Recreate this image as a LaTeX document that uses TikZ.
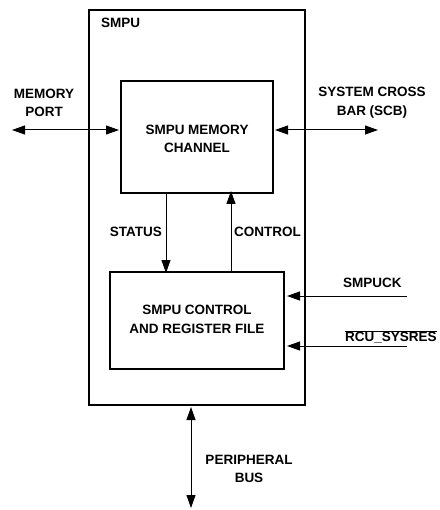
\documentclass[tikz,border=0pt]{standalone}
\usepackage{fontspec}
\setmainfont{Liberation Sans}
\usetikzlibrary{arrows.meta,calc}
\begin{document}
\begin{tikzpicture}[x=1pt,y=-1pt,
  box/.style={draw,line width=1.8pt,inner sep=0pt,outer sep=0pt},
  lab/.style={inner sep=0pt,align=center,font=\fontsize{13.5}{18.5}\selectfont\bfseries},
  con/.style={line width=1pt},
  tip/.style={-{Triangle[length=13pt,width=9pt]}},
  dtip/.style={{Triangle[length=13pt,width=9pt]}-{Triangle[length=13pt,width=9pt]}}]
\useasboundingbox (0,0) rectangle (439,510);
% boxes
\node[box,minimum width=216pt,minimum height=395pt] (smpu) at (197,207.5) {};
\node[box,minimum width=152pt,minimum height=112pt] (mc) at (197,137) {};
\node[box,minimum width=174pt,minimum height=97pt] (cr) at (197,320.5) {};
% labels
\node[lab,anchor=west] (smpulab) at (101,23) {SMPU};
\node[lab] (mclab) at (197,139) {SMPU MEMORY\\CHANNEL};
\node[lab] (crlab) at (197,319.5) {SMPU CONTROL\\AND REGISTER FILE};
\node[lab] (mplab) at (44,103) {MEMORY\\PORT};
\node[lab] (scblab) at (372,102.5) {SYSTEM CROSS\\BAR (SCB)};
\node[lab,anchor=east] (stlab) at (162,232) {STATUS};
\node[lab,anchor=west] (ctlab) at (234,232) {CONTROL};
\node[lab,anchor=west] (cklab) at (343,283) {SMPUCK};
\node[lab,anchor=west] (rslab) at (345,337) {$\overline{\hbox{RCU\_SYSRES}}$};
\node[lab] (pblab) at (249,469) {PERIPHERAL\\BUS};
% free ends
\coordinate (mp) at (12,130);
\coordinate (scb) at (378,130);
\coordinate (ck) at (407,296);
\coordinate (rs) at (407,346);
\coordinate (pbt) at (191,407);
\coordinate (pbb) at (191,508);
% connectors
\draw[con,dtip] (mp) -- ([xshift=-2pt]mc.west |- mp);
\draw[con,dtip] ([xshift=2pt]mc.east |- scb) -- (scb);
\draw[con,tip] (mc.south -| 166,0) -- ([yshift=-1pt]cr.north -| 166,0);
\draw[con,tip] (cr.north -| 231,0) -- ([yshift=2pt]mc.south -| 231,0);
\draw[con,tip] (ck) -- ([xshift=3pt]cr.east |- ck);
\draw[con,tip] (rs) -- ([xshift=3pt]cr.east |- rs);
\draw[con,dtip] (pbt) -- (pbb);
\end{tikzpicture}
\end{document}
